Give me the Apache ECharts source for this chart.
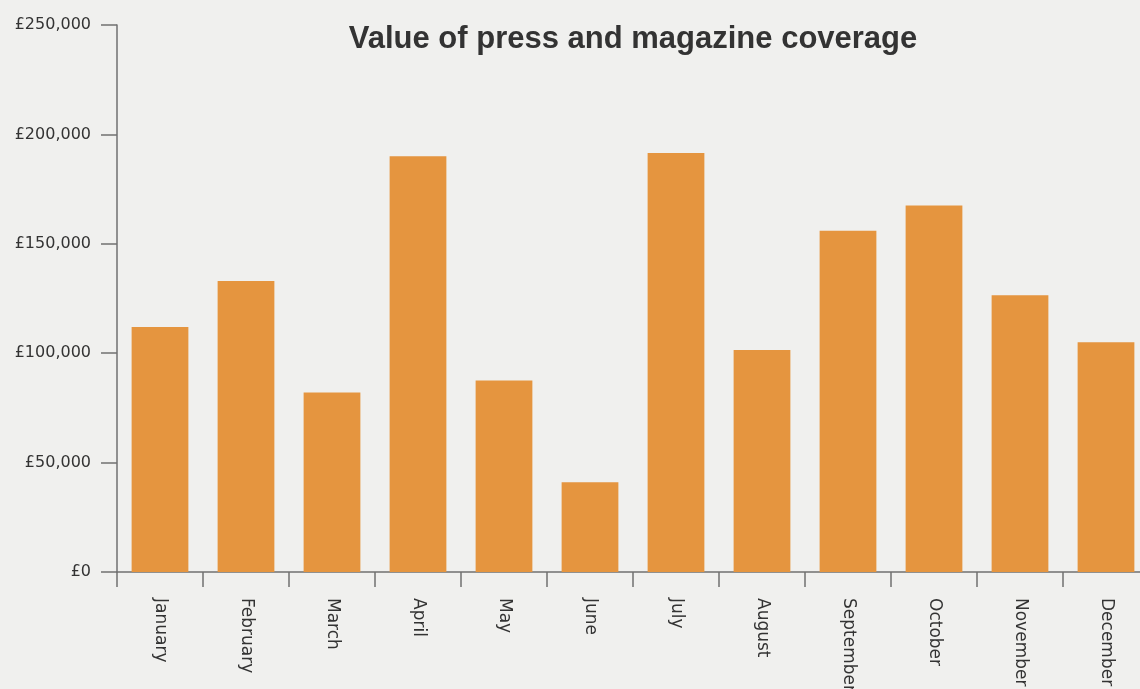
<!DOCTYPE html>
<html>
<head>
<meta charset="utf-8">
<script src="https://cdn.jsdelivr.net/npm/echarts@6/dist/echarts.min.js"></script>
<style>
html,body{margin:0;padding:0;background:#f0f0ee;overflow:hidden;}
#chart{width:1140px;height:689px;}
</style>
</head>
<body>
<div id="chart"></div>
<script>
const titleText = 'Value of press and magazine coverage';
const months = ['January','February','March','April','May','June','July','August','September','October','November','December'];
const coverageValues = [112000,133000,82000,190000,87500,41000,191500,101500,156000,167500,126500,105000];
const yTicks = [0,50000,100000,150000,200000,250000];

function fmt(v){
  return '£' + String(v).replace(/\B(?=(\d{3})+(?!\d))/g, ',');
}

const chart = echarts.init(document.getElementById('chart'), null, {renderer:'canvas'});
chart.setOption({
  backgroundColor:'#f0f0ee',
  animation:false,
  title:{
    text:titleText,
    left:628, top:19, textAlign:'center',
    textStyle:{fontFamily:'Liberation Sans, Arial, sans-serif',fontWeight:'bold',fontSize:31,color:'#333333'}
  },
  grid:{left:117, top:25, width:1032, height:547, containLabel:false, outerBoundsMode:'none'},
  xAxis:{
    type:'category',
    data:months,
    axisLine:{lineStyle:{color:'#707070',width:1.5}},
    axisTick:{show:true,alignWithLabel:false,length:15,lineStyle:{color:'#707070',width:1.5}},
    axisLabel:{rotate:-90,margin:26,interval:0,color:'#333333',fontFamily:'DejaVu Sans, sans-serif',fontSize:17}
  },
  yAxis:{
    type:'value',
    min:yTicks[0], max:yTicks[yTicks.length-1], interval:yTicks[1]-yTicks[0],
    splitLine:{show:false},
    axisLine:{show:true,lineStyle:{color:'#707070',width:1.5}},
    axisTick:{show:true,length:16,lineStyle:{color:'#707070',width:1.5}},
    axisLabel:{margin:26,color:'#333333',fontFamily:'DejaVu Sans, sans-serif',fontSize:16,formatter:fmt}
  },
  series:[{
    type:'bar',
    data:coverageValues,
    barWidth:'66%',
    itemStyle:{color:'#e5953f'}
  }]
});
</script>
</body>
</html>
